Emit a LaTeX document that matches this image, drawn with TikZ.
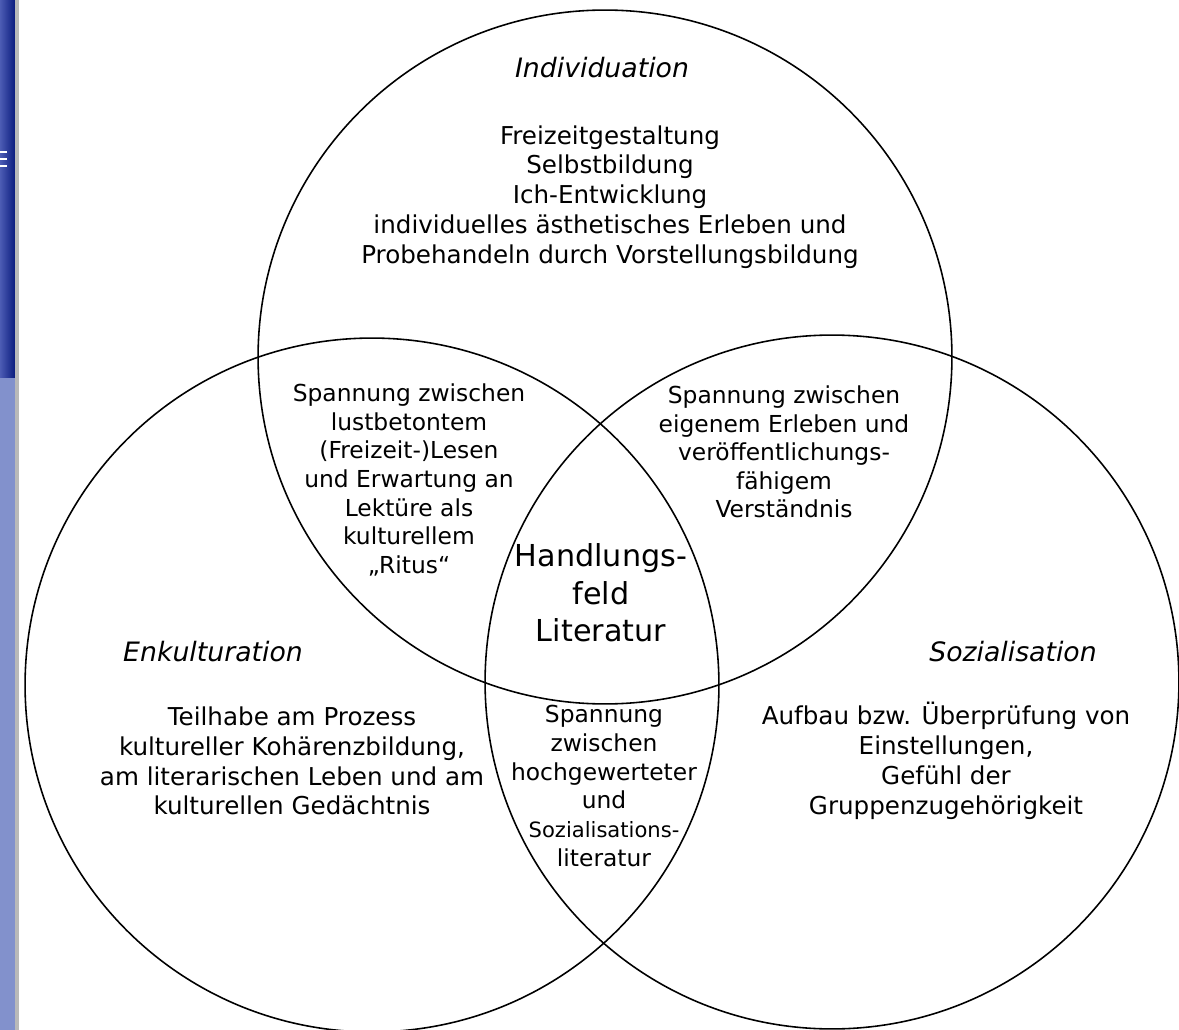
\documentclass[tikz,border=0pt]{standalone}
\usepackage{fontspec}
\setmainfont{DejaVu Sans}
\usepackage{tikz}
\usetikzlibrary{positioning}

\definecolor{barblue}{HTML}{0B1C7E}
\definecolor{barlight}{HTML}{4C5CB4}
\definecolor{checkblue}{HTML}{8291CC}

\begin{document}
\begin{tikzpicture}[
		x=0.02cm, y=-0.02cm
		,ring/.style={circle, draw, line width=0.9pt, minimum size=13.88cm, inner sep=0pt}
		,title/.style={font=\itshape\fontsize{15.2}{17}\selectfont}
		,txt/.style={align=center, font=\fontsize{14}{17}\selectfont}
		,lens/.style={align=center, font=\fontsize{13.3}{16.3}\selectfont}
		,core/.style={align=center, font=\fontsize{17.2}{21.3}\selectfont}
	]
	\useasboundingbox (0,0) rectangle (1179,1030);
	% window edge on the left
	\shade[left color=barlight, right color=barblue] (0,0) rectangle (15,378);
	\fill[checkblue] (0,378) rectangle (15,1030);
	\fill[gray!55] (15,0) rectangle (19,1030);
	\foreach \y in {152,159,166}
		\draw[white, line width=1pt] (0,\y) -- (7,\y);

	% the three circles
	\node [ring] (indiv) at (605,357) {};
	\node [ring] (enkul) at (372,685) {};
	\node [ring] (sozial) at (832,682) {};

	% headings
	\node [title] (tIndiv) at (602,68) {Individuation};
	\node [title] (tEnkul) at (213,652) {Enkulturation};
	\node [title] (tSozial) at (1013,652) {Sozialisation};

	\node [txt] (indivText) at (610,197) {Freizeitgestaltung\\Selbstbildung\\Ich-Entwicklung\\individuelles ästhetisches Erleben und\\Probehandeln durch Vorstellungsbildung};
	\node [txt] (enkulText) at (292,761) {Teilhabe am Prozess\\kultureller Kohärenzbildung,\\am literarischen Leben und am\\kulturellen Gedächtnis};
	\node [txt] (sozialText) at (946,761) {Aufbau bzw. Überprüfung von\\Einstellungen,\\Gefühl der\\Gruppenzugehörigkeit};

	% overlaps
	\node [lens] (leftLens) at (409,480) {Spannung zwischen\\lustbetontem\\(Freizeit-)Lesen\\und Erwartung an\\Lektüre als\\kulturellem\\„Ritus“};
	\node [lens] (rightLens) at (784,452) {Spannung zwischen\\eigenem Erleben und\\veröffentlichungs-\\fähigem\\Verständnis};
	\node [lens] (lowLens) at (604,786) {Spannung\\zwischen\\hochgewerteter\\und\\{\fontsize{12}{16.3}\selectfont Sozialisations-}\\literatur};
	\node [core] (field) at (601,593) {Handlungs-\\feld\\Literatur};
\end{tikzpicture}
\end{document}
